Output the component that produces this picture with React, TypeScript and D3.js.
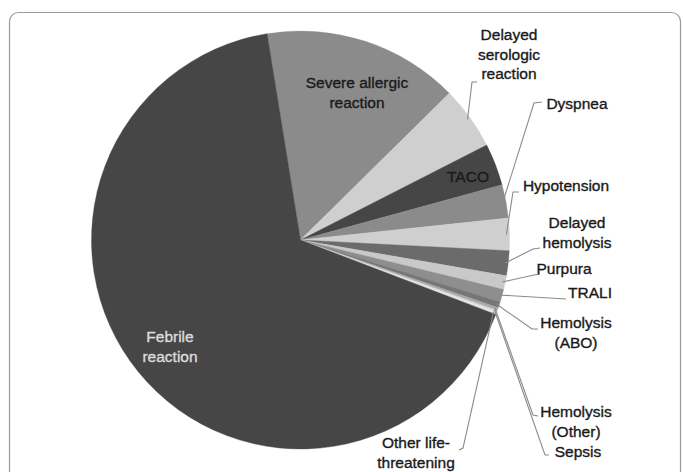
import React from "react";
import * as d3 from "d3";

const categories = [
  "Severe allergic reaction",
  "Delayed serologic reaction",
  "TACO",
  "Dyspnea",
  "Hypotension",
  "Delayed hemolysis",
  "Purpura",
  "TRALI",
  "Hemolysis (ABO)",
  "Hemolysis (Other)",
  "Sepsis",
  "Other life-threatening",
  "Febrile reaction",
];
const values = [15.17, 4.89, 3.25, 2.58, 2.5, 1.92, 1.06, 1.0, 0.45, 0.2, 0.1, 0.25, 66.67];
const colors = [
  "#8b8b8b", "#cfcfcf", "#464646", "#8b8b8b", "#cfcfcf", "#6b6b6b",
  "#c9c9c9", "#8e8e8e", "#767676", "#a8a8a8", "#c4c4c4", "#e4e4e4", "#464646",
];

// label layout: text lines, anchor center, optional leader elbow path
type Lab = { lines: string[]; x: number; y: number; fill: string; leader?: [number, number][] };
const labelLayout: Lab[] = [
  { lines: ["Severe allergic", "reaction"], x: 357, y: 83, fill: "#1a1a1a" },
  { lines: ["Delayed", "serologic", "reaction"], x: 509, y: 35, fill: "#1a1a1a", leader: [[477, 82], [472, 82]] },
  { lines: ["TACO"], x: 468, y: 177, fill: "#1a1a1a" },
  { lines: ["Dyspnea"], x: 577, y: 104, fill: "#1a1a1a", leader: [[542, 102], [534, 103]] },
  { lines: ["Hypotension"], x: 566, y: 186, fill: "#1a1a1a", leader: [[519, 192], [513, 192]] },
  { lines: ["Delayed", "hemolysis"], x: 577, y: 223, fill: "#1a1a1a", leader: [[540, 248], [533, 249]] },
  { lines: ["Purpura"], x: 564, y: 269, fill: "#1a1a1a", leader: [[540, 274], [534, 275]] },
  { lines: ["TRALI"], x: 590, y: 293, fill: "#1a1a1a", leader: [[566, 299]] },
  { lines: ["Hemolysis", "(ABO)"], x: 576, y: 323, fill: "#1a1a1a", leader: [[538, 329], [532, 329]] },
  { lines: ["Hemolysis", "(Other)"], x: 576, y: 412, fill: "#1a1a1a", leader: [[538, 416], [533, 415]] },
  { lines: ["Sepsis"], x: 578, y: 452, fill: "#1a1a1a", leader: [[549, 455], [545, 455]] },
  { lines: ["Other life-", "threatening"], x: 416, y: 443, fill: "#1a1a1a", leader: [[459, 450], [463, 448]] },
  { lines: ["Febrile", "reaction"], x: 170, y: 337, fill: "#dcdcdc" },
];

export default function App() {
  const W = 683, H = 472;
  const cx = 300.5, cy = 240, r = 209;
  const start = (-9.2 * Math.PI) / 180;
  const pie = d3.pie<number>().sort(null).value((d) => d).startAngle(start).endAngle(start + 2 * Math.PI);
  const arcs = pie(values);
  const arc = d3.arc<d3.PieArcDatum<number>>().innerRadius(0).outerRadius(r);
  const lineGen = d3.line();
  const fs = 15.5;
  const lh = 19.5;

  return (
    <svg width={W} height={H} style={{ position: "absolute", left: 0, top: 0, display: "block" }}
      fontFamily="'Liberation Sans', Arial, sans-serif">
      <rect x={0} y={0} width={W} height={H} fill="#fff" />
      <rect x={9.5} y={12.5} width={671} height={520} rx={9} fill="none" stroke="#9a9a9a" strokeWidth={1.2} />
      <g transform={`translate(${cx},${cy})`}>
        {arcs.map((a, i) => (
          <path key={i} d={arc(a) || ""} fill={colors[i]} stroke={colors[i]} strokeWidth={0.4} />
        ))}
      </g>
      {labelLayout.map((lab, i) => {
        if (!lab.leader) return null;
        const a = arcs[i];
        const mid = (a.startAngle + a.endAngle) / 2;
        const rr = r - 3;
        const px = cx + rr * Math.sin(mid);
        const py = cy - rr * Math.cos(mid);
        const pts: [number, number][] = [...lab.leader, [px, py]];
        return <path key={"l" + i} d={lineGen(pts) || ""} fill="none" stroke="#8a8a8a" strokeWidth={1.1} />;
      })}
      {labelLayout.map((lab, i) => (
        <text key={"t" + i} x={lab.x} y={lab.y} fill={lab.fill} stroke={lab.fill} strokeWidth={0.35}
          fontSize={fs} textAnchor="middle">
          {lab.lines.map((ln, j) => (
            <tspan key={j} x={lab.x} y={lab.y + j * lh} dy="0.35em">{ln}</tspan>
          ))}
        </text>
      ))}
    </svg>
  );
}
